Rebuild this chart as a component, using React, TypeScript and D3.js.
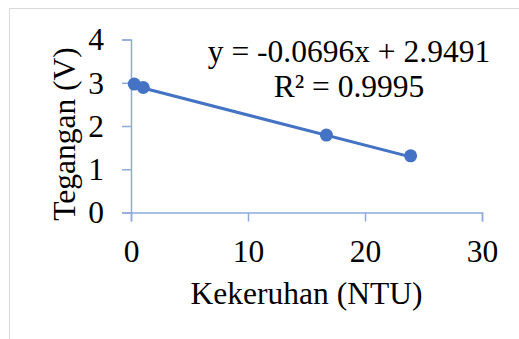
import React, { useEffect, useRef } from "react";
import * as d3 from "d3";

// data
const kekeruhan = [0.28, 1.05, 16.7, 23.9];
const tegangan = [2.97, 2.89, 1.79, 1.31];
const xTicks = [0, 10, 20, 30];
const yTicks = [0, 1, 2, 3, 4];
const slope = -0.0696;
const intercept = 2.9491;
const eqLabel = "y = -0.0696x + 2.9491";
const r2Label = "R² = 0.9995";

const W = 519;
const H = 339;
const margin = { top: 39.5, right: 37, bottom: 126.5, left: 131 };
const FONT = "'Liberation Serif', 'Times New Roman', serif";
const FS = 31.5;
const BLUE = "#4472C4";
const AXIS = "#8FAADC";

const App = () => {
  const ref = useRef<SVGSVGElement>(null);

  useEffect(() => {
    const svg = d3.select(ref.current);
    svg.selectAll("*").remove();

    const x = d3.scaleLinear().domain([0, 30]).range([margin.left, W - margin.right]);
    const y = d3.scaleLinear().domain([0, 4]).range([H - margin.bottom, margin.top]);

    // chart frame
    svg
      .append("rect")
      .attr("x", 9.5)
      .attr("y", 8.5)
      .attr("width", W + 20)
      .attr("height", H + 20)
      .attr("fill", "#fff")
      .attr("stroke", "#d9d9d9")
      .attr("stroke-width", 1);

    // Y axis
    const gy = svg
      .append("g")
      .attr("transform", `translate(${x(0)},0)`)
      .call(
        d3.axisLeft(y).tickValues(yTicks).tickFormat(d3.format("d")).tickSize(9).tickPadding(18)
      );
    gy.selectAll("path,line").attr("stroke", AXIS).attr("stroke-width", 1.5);
    gy.selectAll("text")
      .attr("font-family", FONT)
      .attr("font-size", FS)
      .attr("fill", "#000")
      .attr("dy", "0.33em");

    // X axis
    const gx = svg
      .append("g")
      .attr("transform", `translate(0,${y(0)})`)
      .call(
        d3.axisBottom(x).tickValues(xTicks).tickFormat(d3.format("d")).tickSize(9).tickPadding(18)
      );
    gx.selectAll("path,line").attr("stroke", AXIS).attr("stroke-width", 1.5);
    gx.selectAll("text")
      .attr("font-family", FONT)
      .attr("font-size", FS)
      .attr("fill", "#000")
      .attr("dy", "0.71em");

    // trendline
    const x0 = d3.min(kekeruhan) as number;
    const x1 = d3.max(kekeruhan) as number;
    svg
      .append("line")
      .attr("x1", x(x0))
      .attr("y1", y(slope * x0 + intercept))
      .attr("x2", x(x1))
      .attr("y2", y(slope * x1 + intercept))
      .attr("stroke", BLUE)
      .attr("stroke-width", 3);

    // points
    svg
      .append("g")
      .selectAll("circle")
      .data(kekeruhan)
      .enter()
      .append("circle")
      .attr("cx", (d) => x(d))
      .attr("cy", (d, i) => y(tegangan[i]))
      .attr("r", 6.5)
      .attr("fill", BLUE);

    // equation
    svg
      .append("text")
      .attr("x", 349)
      .attr("y", 62)
      .attr("text-anchor", "middle")
      .attr("font-family", FONT)
      .attr("font-size", FS)
      .text(eqLabel);
    svg
      .append("text")
      .attr("x", 349)
      .attr("y", 97)
      .attr("text-anchor", "middle")
      .attr("font-family", FONT)
      .attr("font-size", FS)
      .text(r2Label);

    // axis titles
    svg
      .append("text")
      .attr("x", (margin.left + W - margin.right) / 2)
      .attr("y", 304)
      .attr("text-anchor", "middle")
      .attr("font-family", FONT)
      .attr("font-size", FS)
      .text("Kekeruhan (NTU)");
    svg
      .append("text")
      .attr("transform", `translate(75,134)rotate(-90)`)
      .attr("text-anchor", "middle")
      .attr("font-family", FONT)
      .attr("font-size", FS)
      .text("Tegangan (V)");
  }, []);

  return (
    <svg
      ref={ref}
      width={W}
      height={H}
      style={{ position: "absolute", left: 0, top: 0 }}
    />
  );
};

export default App;
